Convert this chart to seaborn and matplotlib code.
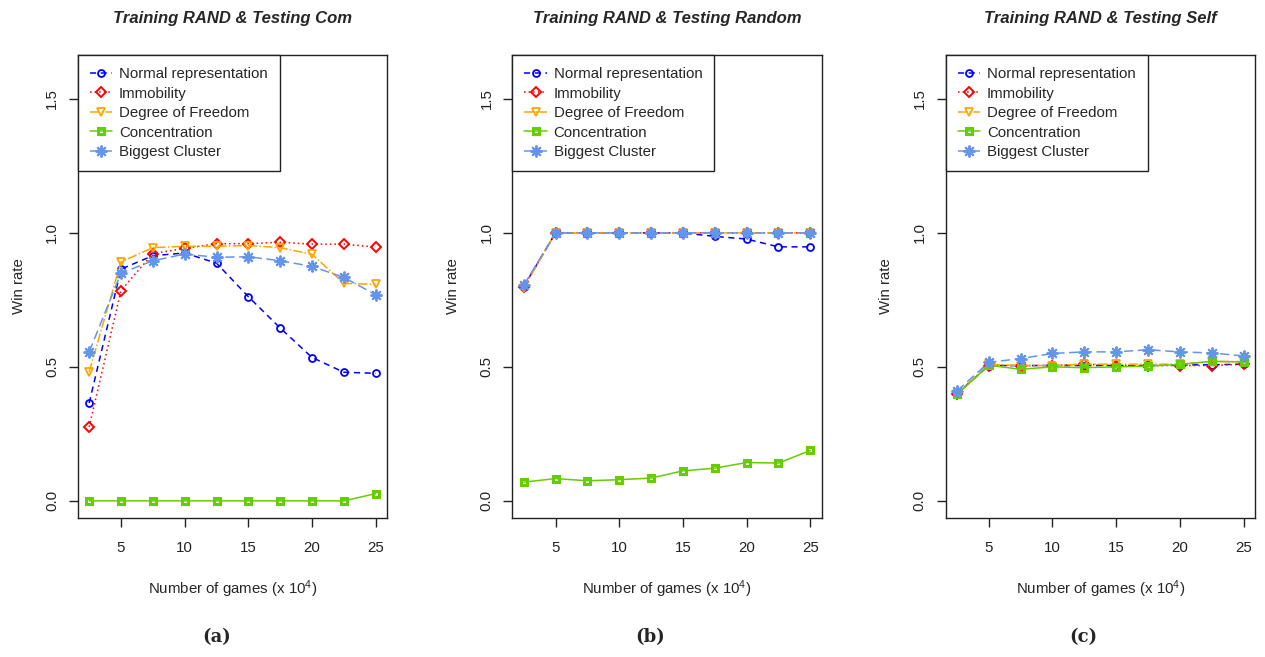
import matplotlib
matplotlib.use("Agg")
import matplotlib.pyplot as plt
import seaborn as sns
import pandas as pd

# nombre de parties (x 10^4)
parties = [2.5, 5, 7.5, 10, 12.5, 15, 17.5, 20, 22.5, 25]

# (a) Training RAND & Testing Com
normal_a = [0.365, 0.865, 0.915, 0.925, 0.887, 0.762, 0.645, 0.535, 0.480, 0.476]
immob_a = [0.276, 0.785, 0.923, 0.942, 0.960, 0.960, 0.965, 0.958, 0.958, 0.947]
dof_a = [0.482, 0.892, 0.945, 0.950, 0.950, 0.953, 0.945, 0.920, 0.812, 0.808]
conc_a = [0.0, 0.0, 0.0, 0.0, 0.0, 0.0, 0.0, 0.0, 0.0, 0.027]
big_a = [0.556, 0.850, 0.896, 0.921, 0.909, 0.911, 0.896, 0.875, 0.834, 0.769]

# (b) Training RAND & Testing Random
normal_b = [0.800, 1.0, 1.0, 1.0, 1.0, 1.0, 0.987, 0.977, 0.948, 0.948]
immob_b = [0.800, 1.0, 1.0, 1.0, 1.0, 1.0, 1.0, 1.0, 1.0, 1.0]
dof_b = [0.795, 1.0, 1.0, 1.0, 1.0, 1.0, 1.0, 1.0, 1.0, 1.0]
conc_b = [0.070, 0.083, 0.075, 0.079, 0.085, 0.112, 0.122, 0.143, 0.141, 0.188]
big_b = [0.805, 1.0, 1.0, 1.0, 1.0, 1.0, 1.0, 1.0, 1.0, 1.0]

# (c) Training RAND & Testing Self
normal_c = [0.400, 0.505, 0.505, 0.505, 0.505, 0.505, 0.505, 0.507, 0.508, 0.510]
immob_c = [0.400, 0.505, 0.505, 0.505, 0.510, 0.505, 0.505, 0.505, 0.505, 0.510]
dof_c = [0.400, 0.510, 0.505, 0.505, 0.510, 0.510, 0.510, 0.510, 0.520, 0.520]
conc_c = [0.397, 0.506, 0.491, 0.500, 0.497, 0.500, 0.503, 0.509, 0.521, 0.518]
big_c = [0.410, 0.517, 0.531, 0.550, 0.556, 0.556, 0.564, 0.556, 0.552, 0.541]

series = ["Normal representation", "Immobility", "Degree of Freedom",
          "Concentration", "Biggest Cluster"]
titres = ["Training RAND & Testing Com", "Training RAND & Testing Random",
          "Training RAND & Testing Self"]
legendes = ["(a)", "(b)", "(c)"]
panneaux = [
    [normal_a, immob_a, dof_a, conc_a, big_a],
    [normal_b, immob_b, dof_b, conc_b, big_b],
    [normal_c, immob_c, dof_c, conc_c, big_c],
]

# style façon R : couleurs, marqueurs creux et types de traits
STYLES = {
    "Normal representation": dict(color="#0000FF", marker="o", ls=(0, (4, 3)), mew=1.3),
    "Immobility": dict(color="#FF0000", marker="D", ls=(0, (1, 2)), mew=1.4),
    "Degree of Freedom": dict(color="#FFA500", marker="v", ls=(0, (6, 1.5, 1, 1.5)), mew=1.3),
    "Concentration": dict(color="#66CD00", marker="s", ls="-", mew=2.2),
    "Biggest Cluster": dict(color="#6495ED", marker=(8, 2, 0), ls=(0, (6, 3)), mew=1.4),
}
TAILLES = {"o": 5, "D": 5.5, "v": 6, "s": 5, (8, 2, 0): 8.5}

sns.set_style("white")
plt.rcParams["font.family"] = ["Liberation Sans", "DejaVu Sans"]
plt.rcParams["mathtext.fontset"] = "custom"
plt.rcParams["mathtext.rm"] = "Liberation Sans"
plt.rcParams["mathtext.it"] = "Liberation Sans:italic"

W, H = 1265, 657
fig = plt.figure(figsize=(W / 100, H / 100), dpi=100)

gauches = [77.7, 512.3, 945.5]
centres_legende = [217, 650, 1083]
haut, bas = 55, 518

for i, valeurs in enumerate(panneaux):
    ax = fig.add_axes([gauches[i] / W, (H - bas) / H, 309.5 / W, (bas - haut) / H])
    df = pd.DataFrame({"parties": parties})
    for nom, v in zip(series, valeurs):
        df[nom] = v
    long = df.melt(id_vars="parties", var_name="serie", value_name="win")

    for nom in series:
        st = STYLES[nom]
        sns.lineplot(data=long[long["serie"] == nom], x="parties", y="win",
                     ax=ax, color=st["color"], linestyle=st["ls"], linewidth=1.1,
                     marker=st["marker"], markersize=TAILLES[st["marker"]],
                     markerfacecolor="none", markeredgecolor=st["color"],
                     markeredgewidth=st["mew"], estimator=None, errorbar=None,
                     label=nom, legend=False)

    ax.set_xlim(1.6, 25.9)
    ax.set_ylim(-0.064, 1.664)
    ax.set_xticks([5, 10, 15, 20, 25])
    ax.set_yticks([0.0, 0.5, 1.0, 1.5])
    ax.set_yticklabels(["0.0", "0.5", "1.0", "1.5"], rotation=90, va="center")
    ax.tick_params(axis="both", direction="out", length=6.5, width=1,
                   colors="#222222", labelsize=10.8, left=True, bottom=True)
    ax.tick_params(axis="x", pad=10)
    ax.tick_params(axis="y", pad=7)
    for sp in ax.spines.values():
        sp.set_color("#222222")
        sp.set_linewidth(1)

    ax.set_xlabel("Number of games (x 10$^4$)", fontsize=10.8, labelpad=17)
    ax.set_ylabel("Win rate", fontsize=10.8, labelpad=14)
    ax.set_title(titres[i], fontsize=12, fontweight="bold", style="italic", pad=23)

    leg = ax.legend(loc="upper left", borderaxespad=0, fontsize=10.8,
                    frameon=True, fancybox=False, framealpha=1,
                    edgecolor="#222222", handlelength=1.5, handletextpad=0.45,
                    labelspacing=0.37, borderpad=0.8)
    leg.get_frame().set_linewidth(1)

    fig.text(centres_legende[i] / W, 1 - 637 / H, legendes[i], ha="center",
             va="center", fontsize=13, fontweight="bold", family="DejaVu Serif")

plt.savefig("out.png", dpi=100)
